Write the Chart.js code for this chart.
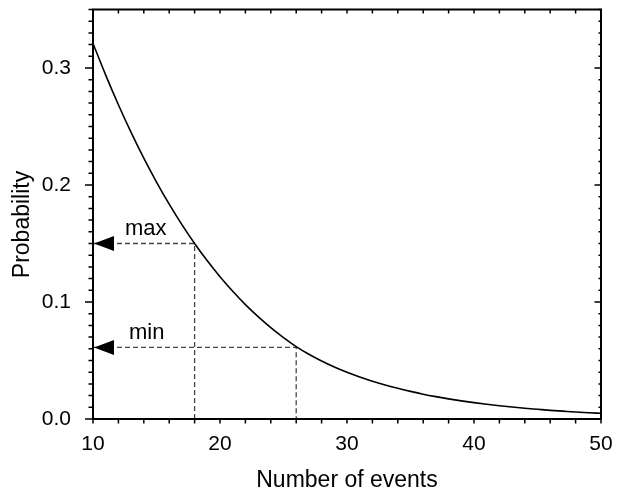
<!DOCTYPE html>
<html>
<head>
<meta charset="utf-8">
<script src="https://cdn.jsdelivr.net/npm/chart.js@4.4.1/dist/chart.umd.min.js"></script>
<style>
html,body{margin:0;padding:0;background:#fff;}
#wrap{width:619px;height:492px;position:relative;}
</style>
</head>
<body>
<div id="wrap"><canvas id="c" width="619" height="492"></canvas></div>
<script>
// ---- data ----
const events = [10,11,12,13,14,15,16,17,18,19,20,21,22,23,24,25,26,27,28,29,30,
                31,32,33,34,35,36,37,38,39,40,41,42,43,44,45,46,47,48,49,50];
const probability = [0.321,0.2939,0.2686,0.2449,0.2229,0.2025,0.1836,0.1661,0.1500,0.1352,0.1216,
                     0.1092,0.0978,0.0875,0.0781,0.0696,0.0619,0.0553,0.0495,0.0444,0.0399,
                     0.0359,0.0323,0.0291,0.0262,0.0236,0.0212,0.0191,0.0172,0.0155,0.0140,
                     0.0126,0.0113,0.0102,0.0092,0.0083,0.0074,0.0067,0.0060,0.0054,0.0049];
const xTickValues = [10,20,30,40,50];
const yTickValues = [0.0,0.1,0.2,0.3];
const markerLabels = ['max','min'];
const markerX = [18,26];
const markerY = [0.150,0.0612];
const xTitle = 'Number of events';
const yTitle = 'Probability';

const FONT = '"Liberation Sans", Arial, Helvetica, sans-serif';

const curve = events.map((x,i)=>({x:x,y:probability[i]}));
const dashSets = markerX.map((mx,i)=>({
  data:[{x:xTickValues[0],y:markerY[i]},{x:mx,y:markerY[i]},{x:mx,y:0}],
  showLine:true, borderColor:'#444', borderWidth:1.3, borderDash:[5,3],
  pointRadius:0, fill:false, tension:0
}));

function zeroPad(s){ s.paddingLeft = 0; s.paddingRight = 0; s.paddingTop = 0; s.paddingBottom = 0; }

const decor = {
  id:'decor',
  afterDraw(chart){
    const ctx = chart.ctx, a = chart.chartArea;
    const xs = chart.scales.x, ys = chart.scales.y;
    ctx.save();
    // frame
    ctx.strokeStyle = '#000'; ctx.lineWidth = 2;
    ctx.strokeRect(a.left, a.top, a.right-a.left, a.bottom-a.top);
    // ticks
    ctx.lineWidth = 1.5;
    ctx.beginPath();
    for (let v = xs.min; v <= xs.max + 1e-9; v += 2) {
      const px = xs.getPixelForValue(v);
      ctx.moveTo(px, a.bottom); ctx.lineTo(px, a.bottom + 4.5);
      ctx.moveTo(px, a.top); ctx.lineTo(px, a.top + 4);
    }
    for (let k = 0; k <= 35; k++) {
      const v = k/100;
      const py = ys.getPixelForValue(v);
      const major = (k % 10 === 0);
      ctx.moveTo(a.left, py); ctx.lineTo(a.left - (major ? 8 : 4.5), py);
      ctx.moveTo(a.right, py); ctx.lineTo(a.right - (major ? 6.5 : 2.5), py);
    }
    ctx.stroke();
    // arrows and labels
    ctx.fillStyle = '#000';
    ctx.font = '22px ' + FONT;
    ctx.textBaseline = 'alphabetic';
    ctx.textAlign = 'left';
    markerX.forEach((mx,i)=>{
      const tipX = xs.getPixelForValue(xTickValues[0]) + 1;
      const py = ys.getPixelForValue(markerY[i]);
      ctx.beginPath();
      ctx.moveTo(tipX, py);
      ctx.lineTo(tipX + 20, py - 7.5);
      ctx.lineTo(tipX + 20, py + 7.5);
      ctx.closePath();
      ctx.fill();
      const lx = tipX + (i === 0 ? 31 : 35);
      ctx.fillText(markerLabels[i], lx, py - 8.5);
    });
    // axis titles
    ctx.font = '23px ' + FONT;
    ctx.textAlign = 'center';
    ctx.fillText(xTitle, (a.left + a.right)/2, 487);
    ctx.save();
    ctx.translate(28.5, 224.5);
    ctx.rotate(-Math.PI/2);
    ctx.fillText(yTitle, 0, 0);
    ctx.restore();
    ctx.restore();
  }
};

new Chart(document.getElementById('c'), {
  type:'scatter',
  data:{
    datasets:[
      {data:curve, showLine:true, borderColor:'#000', borderWidth:1.6, pointRadius:0,
       fill:false, cubicInterpolationMode:'monotone'},
      ...dashSets
    ]
  },
  options:{
    responsive:false, animation:false,
    layout:{padding:{top:9.5,right:18,left:0,bottom:0}},
    plugins:{legend:{display:false}, tooltip:{enabled:false}},
    scales:{
      x:{
        type:'linear', min:10, max:50,
        afterBuildTicks:s=>{s.ticks = xTickValues.map(v=>({value:v}));},
        afterFit:s=>{s.height = 73; zeroPad(s);},
        grid:{display:false}, border:{display:false},
        ticks:{color:'#000', font:{family:FONT,size:21}, padding:5, maxRotation:0, autoSkip:false,
               callback:v=>String(v)}
      },
      y:{
        type:'linear', min:0, max:0.35,
        afterBuildTicks:s=>{s.ticks = yTickValues.map(v=>({value:v}));},
        afterFit:s=>{s.width = 93; zeroPad(s);},
        grid:{display:false}, border:{display:false},
        ticks:{color:'#000', font:{family:FONT,size:21}, padding:14, autoSkip:false,
               callback:v=>Number(v).toFixed(1)}
      }
    }
  },
  plugins:[decor]
});
</script>
</body>
</html>
